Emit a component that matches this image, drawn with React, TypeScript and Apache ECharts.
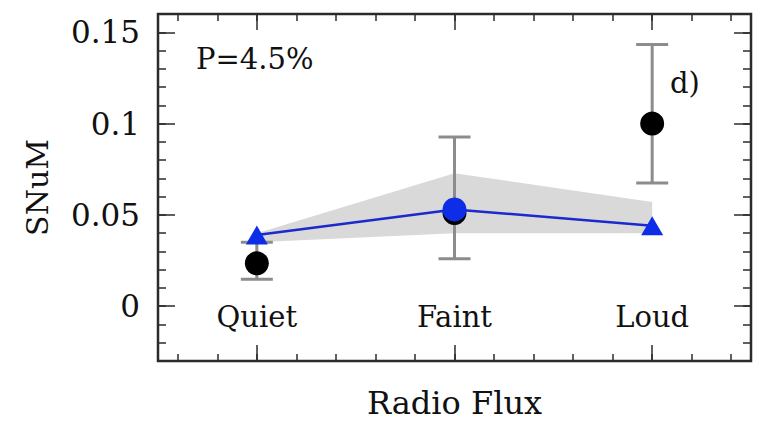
import React, { useEffect, useRef } from "react";
import * as echarts from "echarts";

const categories = ["Quiet", "Faint", "Loud"];
const observed = [0.0235, 0.051, 0.1];
const errLow = [0.0148, 0.026, 0.0675];
const errHigh = [0.035, 0.0926, 0.1433];
const model = [0.039, 0.053, 0.044];
const bandLower = [0.035, 0.04, 0.04];
const bandUpper = [0.04, 0.0728, 0.057];
const yLabelTicks = [0, 0.05, 0.1, 0.15];
const xMajorTicks = [0, 1, 2];
const annotation = "P=4.5%";
const panelTag = "d)";

const FONT = "DejaVu Serif";
const FRAME = "#2b2b2b";

export default function App() {
  const ref = useRef<HTMLDivElement>(null);
  useEffect(() => {
    if (!ref.current) return;
    const chart = echarts.init(ref.current, null, { renderer: "svg" });
    const xMinor: number[] = [];
    for (let i = -2; i <= 12; i++) xMinor.push(Math.round(i * 0.2 * 10) / 10);

    const baseX = (position: "top" | "bottom") => ({
      type: "value" as const,
      min: -0.5,
      max: 2.5,
      position,
      axisLine: { show: false, onZero: false },
      splitLine: { show: false },
    });
    const baseY = (position: "left" | "right") => ({
      type: "value" as const,
      min: -0.03,
      max: 0.16,
      interval: 0.01,
      position,
      axisLine: { show: false, onZero: false },
      splitLine: { show: false },
    });
    const tickStyle = { color: FRAME, width: 1.5 };

    chart.setOption({
      animation: false,
      backgroundColor: "#fff",
      grid: {
        left: 158,
        right: 21,
        top: 14,
        bottom: 64,
        show: true,
        borderColor: FRAME,
        borderWidth: 2.5,
        backgroundColor: "transparent",
      },
      xAxis: [
        {
          ...baseX("bottom"),
          name: "Radio Flux",
          nameLocation: "middle",
          nameGap: 26,
          nameTextStyle: { fontFamily: FONT, fontSize: 32, color: "#111", verticalAlign: "top" },
          axisTick: { inside: true, length: 7, customValues: xMinor, lineStyle: tickStyle },
          axisLabel: { show: false },
        },
        {
          ...baseX("bottom"),
          axisTick: { inside: true, length: 16, customValues: xMajorTicks, lineStyle: tickStyle },
          axisLabel: {
            inside: true,
            margin: 30,
            customValues: xMajorTicks,
            formatter: (v: number) => categories[Math.round(v)] ?? "",
            fontFamily: FONT,
            fontSize: 29,
            color: "#111",
          },
        },
        {
          ...baseX("top"),
          axisTick: { inside: true, length: 7, customValues: xMinor, lineStyle: tickStyle },
          axisLabel: { show: false },
        },
        {
          ...baseX("top"),
          axisTick: { inside: true, length: 16, customValues: xMajorTicks, lineStyle: tickStyle },
          axisLabel: { show: false },
        },
      ],
      yAxis: [
        {
          ...baseY("left"),
          name: "SNuM",
          nameLocation: "middle",
          nameGap: 106,
          nameTextStyle: { fontFamily: FONT, fontSize: 30, color: "#111" },
          axisTick: { inside: true, length: 8, lineStyle: tickStyle },
          axisLabel: { show: false },
        },
        {
          ...baseY("left"),
          axisTick: { inside: true, length: 17, customValues: yLabelTicks, lineStyle: tickStyle },
          axisLabel: {
            margin: 18,
            customValues: yLabelTicks,
            formatter: (v: number) => (Math.abs(v) < 1e-9 ? "0" : String(Math.round(v * 100) / 100)),
            fontFamily: FONT,
            fontSize: 31,
            color: "#111",
          },
        },
        {
          ...baseY("right"),
          axisTick: { inside: true, length: 8, lineStyle: tickStyle },
          axisLabel: { show: false },
        },
        {
          ...baseY("right"),
          axisTick: { inside: true, length: 17, customValues: yLabelTicks, lineStyle: tickStyle },
          axisLabel: { show: false },
        },
      ],
      series: [
        {
          type: "custom",
          name: "band",
          xAxisIndex: 0,
          yAxisIndex: 0,
          z: 1,
          silent: true,
          data: categories.map((_, i) => [i, bandLower[i], bandUpper[i]]),
          renderItem: (params: any, api: any) => {
            if (params.dataIndex !== 0) return null;
            const pts: number[][] = [];
            for (let i = 0; i < categories.length; i++) pts.push(api.coord([i, bandUpper[i]]));
            for (let i = categories.length - 1; i >= 0; i--) pts.push(api.coord([i, bandLower[i]]));
            return {
              type: "polygon",
              shape: { points: pts },
              style: { fill: "#d9d9d9", stroke: "none" },
            };
          },
        },
        {
          type: "custom",
          name: "errors",
          xAxisIndex: 0,
          yAxisIndex: 0,
          z: 2,
          silent: true,
          data: categories.map((_, i) => [i, errLow[i], errHigh[i]]),
          renderItem: (params: any, api: any) => {
            const x = api.value(0);
            const lo = api.coord([x, api.value(1)]);
            const hi = api.coord([x, api.value(2)]);
            const hw = 16;
            const st = { stroke: "#8c8c8c", lineWidth: 3 };
            return {
              type: "group",
              children: [
                { type: "line", shape: { x1: lo[0], y1: lo[1], x2: hi[0], y2: hi[1] }, style: st },
                { type: "line", shape: { x1: lo[0] - hw, y1: lo[1], x2: lo[0] + hw, y2: lo[1] }, style: st },
                { type: "line", shape: { x1: hi[0] - hw, y1: hi[1], x2: hi[0] + hw, y2: hi[1] }, style: st },
              ],
            };
          },
        },
        {
          type: "scatter",
          name: "observed",
          xAxisIndex: 0,
          yAxisIndex: 0,
          z: 3,
          symbol: "circle",
          symbolSize: 24,
          itemStyle: { color: "#000", opacity: 1 },
          data: categories.map((_, i) => [i, observed[i]]),
        },
        {
          type: "line",
          name: "model",
          xAxisIndex: 0,
          yAxisIndex: 0,
          z: 4,
          lineStyle: { color: "#1a2acc", width: 2.5 },
          itemStyle: { color: "#0d2ee6", opacity: 1 },
          showAllSymbol: true,
          data: categories.map((_, i) => ({
            value: [i, model[i]],
            symbol: i === 1 ? "circle" : "triangle",
            symbolSize: i === 1 ? 24 : [22, 19],
          })),
        },
      ],
      graphic: [
        {
          type: "text",
          left: 196,
          top: 44,
          style: { text: annotation, font: `29px '${FONT}'`, fill: "#111" },
        },
        {
          type: "text",
          left: 670,
          top: 68,
          style: { text: panelTag, font: `29px '${FONT}'`, fill: "#111" },
        },
      ],
    });
    return () => chart.dispose();
  }, []);
  return <div ref={ref} style={{ width: 772, height: 425, position: "absolute", left: 0, top: 0 }} />;
}
